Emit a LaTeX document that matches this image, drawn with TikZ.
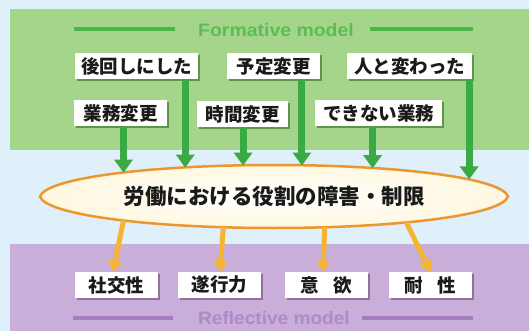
\documentclass[tikz,border=0pt]{standalone}
\usepackage{fontspec}
\setmainfont{Liberation Sans}
\newfontfamily\jp{Noto Sans CJK JP}
\usetikzlibrary{arrows.meta,shapes.geometric,shadows,calc}
\definecolor{bg}{HTML}{E0F0FA}
\definecolor{gband}{HTML}{A4D58B}
\definecolor{gline}{HTML}{4DB649}
\definecolor{gtext}{HTML}{5CBD52}
\definecolor{garrow}{HTML}{3AAA45}
\definecolor{pband}{HTML}{C8AED9}
\definecolor{pline}{HTML}{A67CC0}
\definecolor{ptext}{HTML}{AE8AC8}
\definecolor{oarrow}{HTML}{F6B433}
\definecolor{oborder}{HTML}{EC9631}
\definecolor{ofill}{HTML}{FFF8E0}
\definecolor{txt}{HTML}{1A1A1A}
\begin{document}
\begin{tikzpicture}[x=1pt,y=-1pt,
  gbox/.style={fill=white, text=txt, font=\jp\bfseries\fontsize{18.5}{18.5}\selectfont,
    inner sep=0pt, minimum height=26pt,
    drop shadow={shadow xshift=2pt,shadow yshift=-2pt,opacity=0.45,fill=black!70!green}},
  pbox/.style={fill=white, text=txt, font=\jp\bfseries\fontsize{18.5}{18.5}\selectfont,
    inner sep=0pt, minimum height=26pt, minimum width=83pt,
    drop shadow={shadow xshift=2pt,shadow yshift=-2pt,opacity=0.35,fill=black!70!violet}},
  garr/.style={garrow, line width=7pt, -{Triangle[width=18pt,length=13pt]}},
  oarr/.style={oarrow, line width=5pt, -{Triangle[width=14pt,length=11pt]}},
  title/.style={font=\bfseries\fontsize{18}{18}\selectfont, inner sep=0pt},
]
% background and bands
\fill[bg] (0,0) rectangle (529,331);
\fill[gband] (10,9) rectangle (529,150);
\fill[pband] (10,244) rectangle (529,331);

% titles
\node[title, text=gtext] (ft) at (276,30) {\scalebox{1.08}[1]{Formative model}};
\draw[gline, line width=4pt] (74,29.5) -- (175,29.5);
\draw[gline, line width=4pt] (370,29.5) -- (473,29.5);
\node[title, text=ptext] (rt) at (274,318) {\scalebox{1.06}[1]{Reflective model}};
\draw[pline, line width=4pt] (73,318) -- (173,318);
\draw[pline, line width=4pt] (362,318) -- (473,318);

% top boxes
\node[gbox, minimum width=123pt] (b1) at (136.5,66.5) {後回しにした};
\node[gbox, minimum width=93pt]  (b2) at (273.5,66.5) {予定変更};
\node[gbox, minimum width=125pt] (b3) at (409.5,66.5) {人と変わった};
\node[gbox, minimum width=93pt]  (b4) at (120.5,113.5) {業務変更};
\node[gbox, minimum width=91pt]  (b5) at (242.5,114) {時間変更};
\node[gbox, minimum width=127pt] (b6) at (378.5,113.5) {できない業務};

% bottom boxes
\node[pbox] (c1) at (116.5,285) {社交性};
\node[pbox] (c2) at (219.5,285) {遂行力};
\node[pbox] (c3) at (326,285) {意\hspace{0.8em}欲};
\node[pbox] (c4) at (430.5,285) {耐\hspace{0.8em}性};

% lens
\path[draw=oborder, line width=2.5pt, inner color=white, outer color=ofill]
  (40,196.5) .. controls (46,178) and (150,165) .. (274,165)
  .. controls (398,165) and (502,178) .. (508,196.5)
  .. controls (502,215) and (398,228) .. (274,228)
  .. controls (150,228) and (46,215) .. (40,196.5) -- cycle;
\node[ellipse, minimum width=466pt, minimum height=62pt, inner sep=0pt,
  text=txt, font=\jp\bfseries\fontsize{21.5}{21.5}\selectfont] (E) at (274,196.5)
  {労働における役割の障害・制限};

% green arrows
\draw[garr] (b4.south -| E.171) -- (E.171);
\draw[garr] (b1.south -| E.162.5) -- (E.162.5);
\draw[garr] (b5.south -| E.135.7) -- (E.135.7);
\draw[garr] (b2.south -| E.48.2) -- (E.48.2);
\draw[garr] (b6.south -| E.16.1) -- (E.16.1);
\draw[garr] (b3.south -| E.5.95) -- (E.5.95);

% orange arrows
\draw[oarr] (E.189.5) -- ($(c1.north)+(-3.5,0)$);
\draw[oarr] (E.211.6) -- ($(c2.north)+(0.5,0)$);
\draw[oarr] (E.329) -- ($(c3.north)+(-3,0)$);
\draw[oarr] (E.349.9) -- (c4.north);
\end{tikzpicture}
\end{document}
